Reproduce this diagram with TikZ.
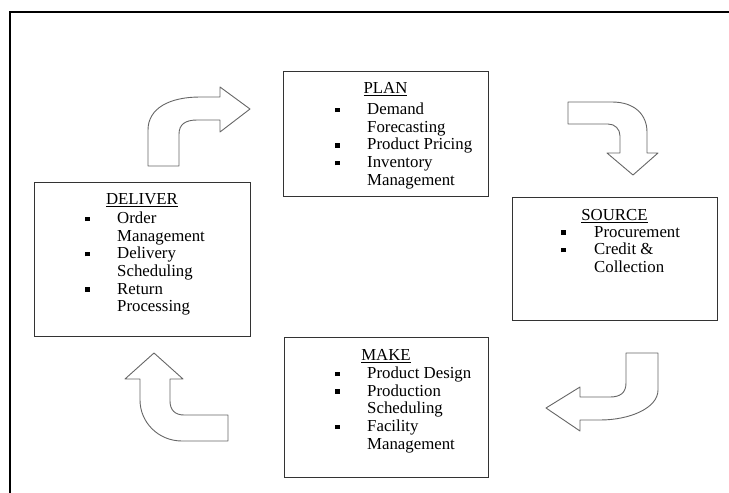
\documentclass[tikz,border=0pt]{standalone}
\usepackage{fontspec}
\setmainfont{Liberation Serif}
\usepackage{tikz}

\newcommand{\sqbullet}{\rule[2.3pt]{4.4pt}{4.4pt}}

\begin{document}
\begin{tikzpicture}[x=1pt, y=-1pt,
  box/.style={draw=black!80, line width=1.3pt, anchor=north west, inner sep=0pt},
  titletext/.style={font=\fontsize{16.8}{17.7}\selectfont, anchor=base, inner sep=0pt, text=black},
  listtext/.style={font=\fontsize{16.8}{17.7}\selectfont, anchor=base west, inner sep=0pt, text=black},
  blockarrow/.style={draw=black!60, fill=white, line width=0.9pt, line join=round}]

\useasboundingbox (0,0) rectangle (729,493);

% page frame, only top and left edges show
\draw[line width=1.8pt] (10,493) -- (10,12) -- (729,12);

% the four boxes
\node[box, minimum width=205pt, minimum height=125pt] (plan) at (283,71) {};
\node[box, minimum width=205pt, minimum height=123pt] (source) at (512,197) {};
\node[box, minimum width=204pt, minimum height=140pt] (make) at (284,337) {};
\node[box, minimum width=216pt, minimum height=154pt] (deliver) at (34,182) {};

% PLAN
\node[titletext] (plantitle) at (385.5,93.3) {\underline{PLAN}};
\node[listtext] (planlist) at (335,114.5) {%
\begin{tabular}[t]{@{}p{32pt}@{}l@{}}
\sqbullet & Demand\\
 & Forecasting\\
\sqbullet & Product Pricing\\
\sqbullet & Inventory\\
 & Management
\end{tabular}};

% SOURCE
\node[titletext] (sourcetitle) at (614.5,220.7) {\underline{SOURCE}};
\node[listtext] (sourcelist) at (561,237) {%
\begin{tabular}[t]{@{}p{33pt}@{}l@{}}
\sqbullet & Procurement\\
\sqbullet & Credit \&\\
 & Collection
\end{tabular}};

% MAKE
\node[titletext] (maketitle) at (386,360.7) {\underline{MAKE}};
\node[listtext] (makelist) at (335,378.3) {%
\begin{tabular}[t]{@{}p{32pt}@{}l@{}}
\sqbullet & Product Design\\
\sqbullet & Production\\
 & Scheduling\\
\sqbullet & Facility\\
 & Management
\end{tabular}};

% DELIVER
\node[titletext] (delivertitle) at (142,204.3) {\underline{DELIVER}};
\node[listtext] (deliverlist) at (85,223.3) {%
\begin{tabular}[t]{@{}p{32pt}@{}l@{}}
\sqbullet & Order\\
 & Management\\
\sqbullet & Delivery\\
 & Scheduling\\
\sqbullet & Return\\
 & Processing
\end{tabular}};

%% bent block arrows round the cycle
% deliver -> plan
\draw[blockarrow] (148,166) -- (148,130) .. controls (148,108) and (170,97) .. (200,97)
  -- (220,97) -- (220,87) -- (250,109) -- (220,132) -- (220,120) -- (197,120)
  .. controls (186,120) and (179,124) .. (179,134) -- (179,166) -- cycle;
% plan -> source
\draw[blockarrow] (568,102) -- (612,102) .. controls (635,102) and (647,115) .. (647,132)
  -- (647,153) -- (658,153) -- (633,175) -- (607,153) -- (620,153) -- (620,136)
  .. controls (620,129) and (615,124) .. (608,124) -- (568,124) -- cycle;
% source -> make
\draw[blockarrow] (626,353) -- (658,353) -- (658,390) .. controls (658,408) and (630,420) .. (600,420)
  -- (580,420) -- (580,431) -- (546,408) -- (580,387) -- (580,397) -- (610,397)
  .. controls (620,397) and (626,393) .. (626,383) -- cycle;
% make -> deliver
\draw[blockarrow] (228,441) -- (182,441) .. controls (158,441) and (140,422) .. (140,400)
  -- (140,379) -- (125,379) -- (154,353) -- (183,379) -- (170,379) -- (170,401)
  .. controls (170,410) and (175,415) .. (184,415) -- (228,415) -- cycle;

\end{tikzpicture}
\end{document}
